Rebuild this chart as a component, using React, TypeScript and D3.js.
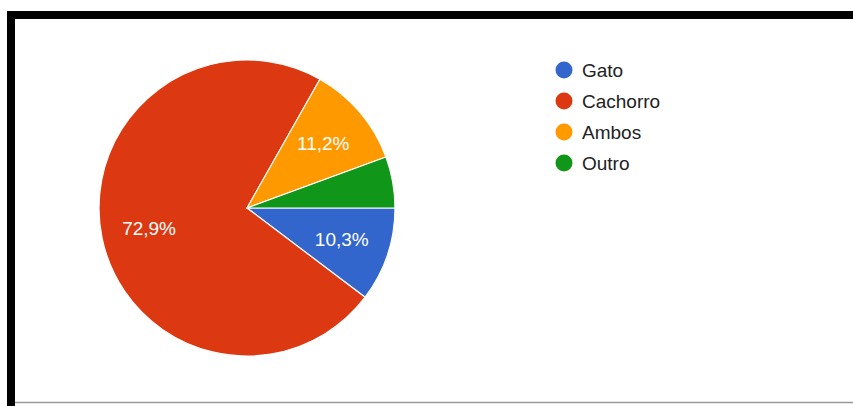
import React from "react";
import * as d3 from "d3";

const categories = ["Gato", "Cachorro", "Ambos", "Outro"];
const values = [10.3, 72.9, 11.2, 5.6];
const labels = ["10,3%", "72,9%", "11,2%", ""];
const colors = ["#3366cc", "#dc3912", "#ff9900", "#109618"];

const W = 853;
const H = 406;
const cx = 247;
const cy = 208;
const R = 148;

export default function App() {
  const pie = d3
    .pie<number>()
    .sort(null)
    .value((d) => d)
    .startAngle(Math.PI / 2)
    .endAngle(Math.PI / 2 + 2 * Math.PI);
  const arcs = pie(values);
  const arc = d3.arc<d3.PieArcDatum<number>>().innerRadius(0).outerRadius(R);
  const labelArc = d3.arc<d3.PieArcDatum<number>>().innerRadius(100).outerRadius(100);

  return (
    <div style={{ position: "absolute", left: 0, top: 0 }}>
      <svg width={W} height={H} style={{ display: "block", fontFamily: "Arial, 'Liberation Sans', sans-serif" }}>
        <rect x={0} y={0} width={W} height={H} fill="#ffffff" />
        {/* frame */}
        <rect x={7} y={11} width={W} height={8} fill="#000" />
        <rect x={7} y={11} width={8} height={H} fill="#000" />
        <line x1={15} x2={W} y1={402.5} y2={402.5} stroke="#999" strokeWidth={1.5} />
        <g transform={`translate(${cx},${cy})`}>
          {arcs.map((a, i) => (
            <path key={categories[i]} d={arc(a) || ""} fill={colors[i]} stroke="#ffffff" strokeWidth={1.2} />
          ))}
          {arcs.map((a, i) => {
            const [x, y] = labelArc.centroid(a);
            return labels[i] ? (
              <text
                key={"l" + i}
                x={x}
                y={y}
                dy="0.35em"
                textAnchor="middle"
                fill="#ffffff"
                fontSize={19}
              >
                {labels[i]}
              </text>
            ) : null;
          })}
        </g>
        <g>
          {categories.map((c, i) => (
            <g key={c} transform={`translate(564,${70 + i * 31})`}>
              <circle r={8.5} fill={colors[i]} />
              <text x={18} dy="0.35em" fontSize={19} fill="#222222">
                {c}
              </text>
            </g>
          ))}
        </g>
      </svg>
    </div>
  );
}
